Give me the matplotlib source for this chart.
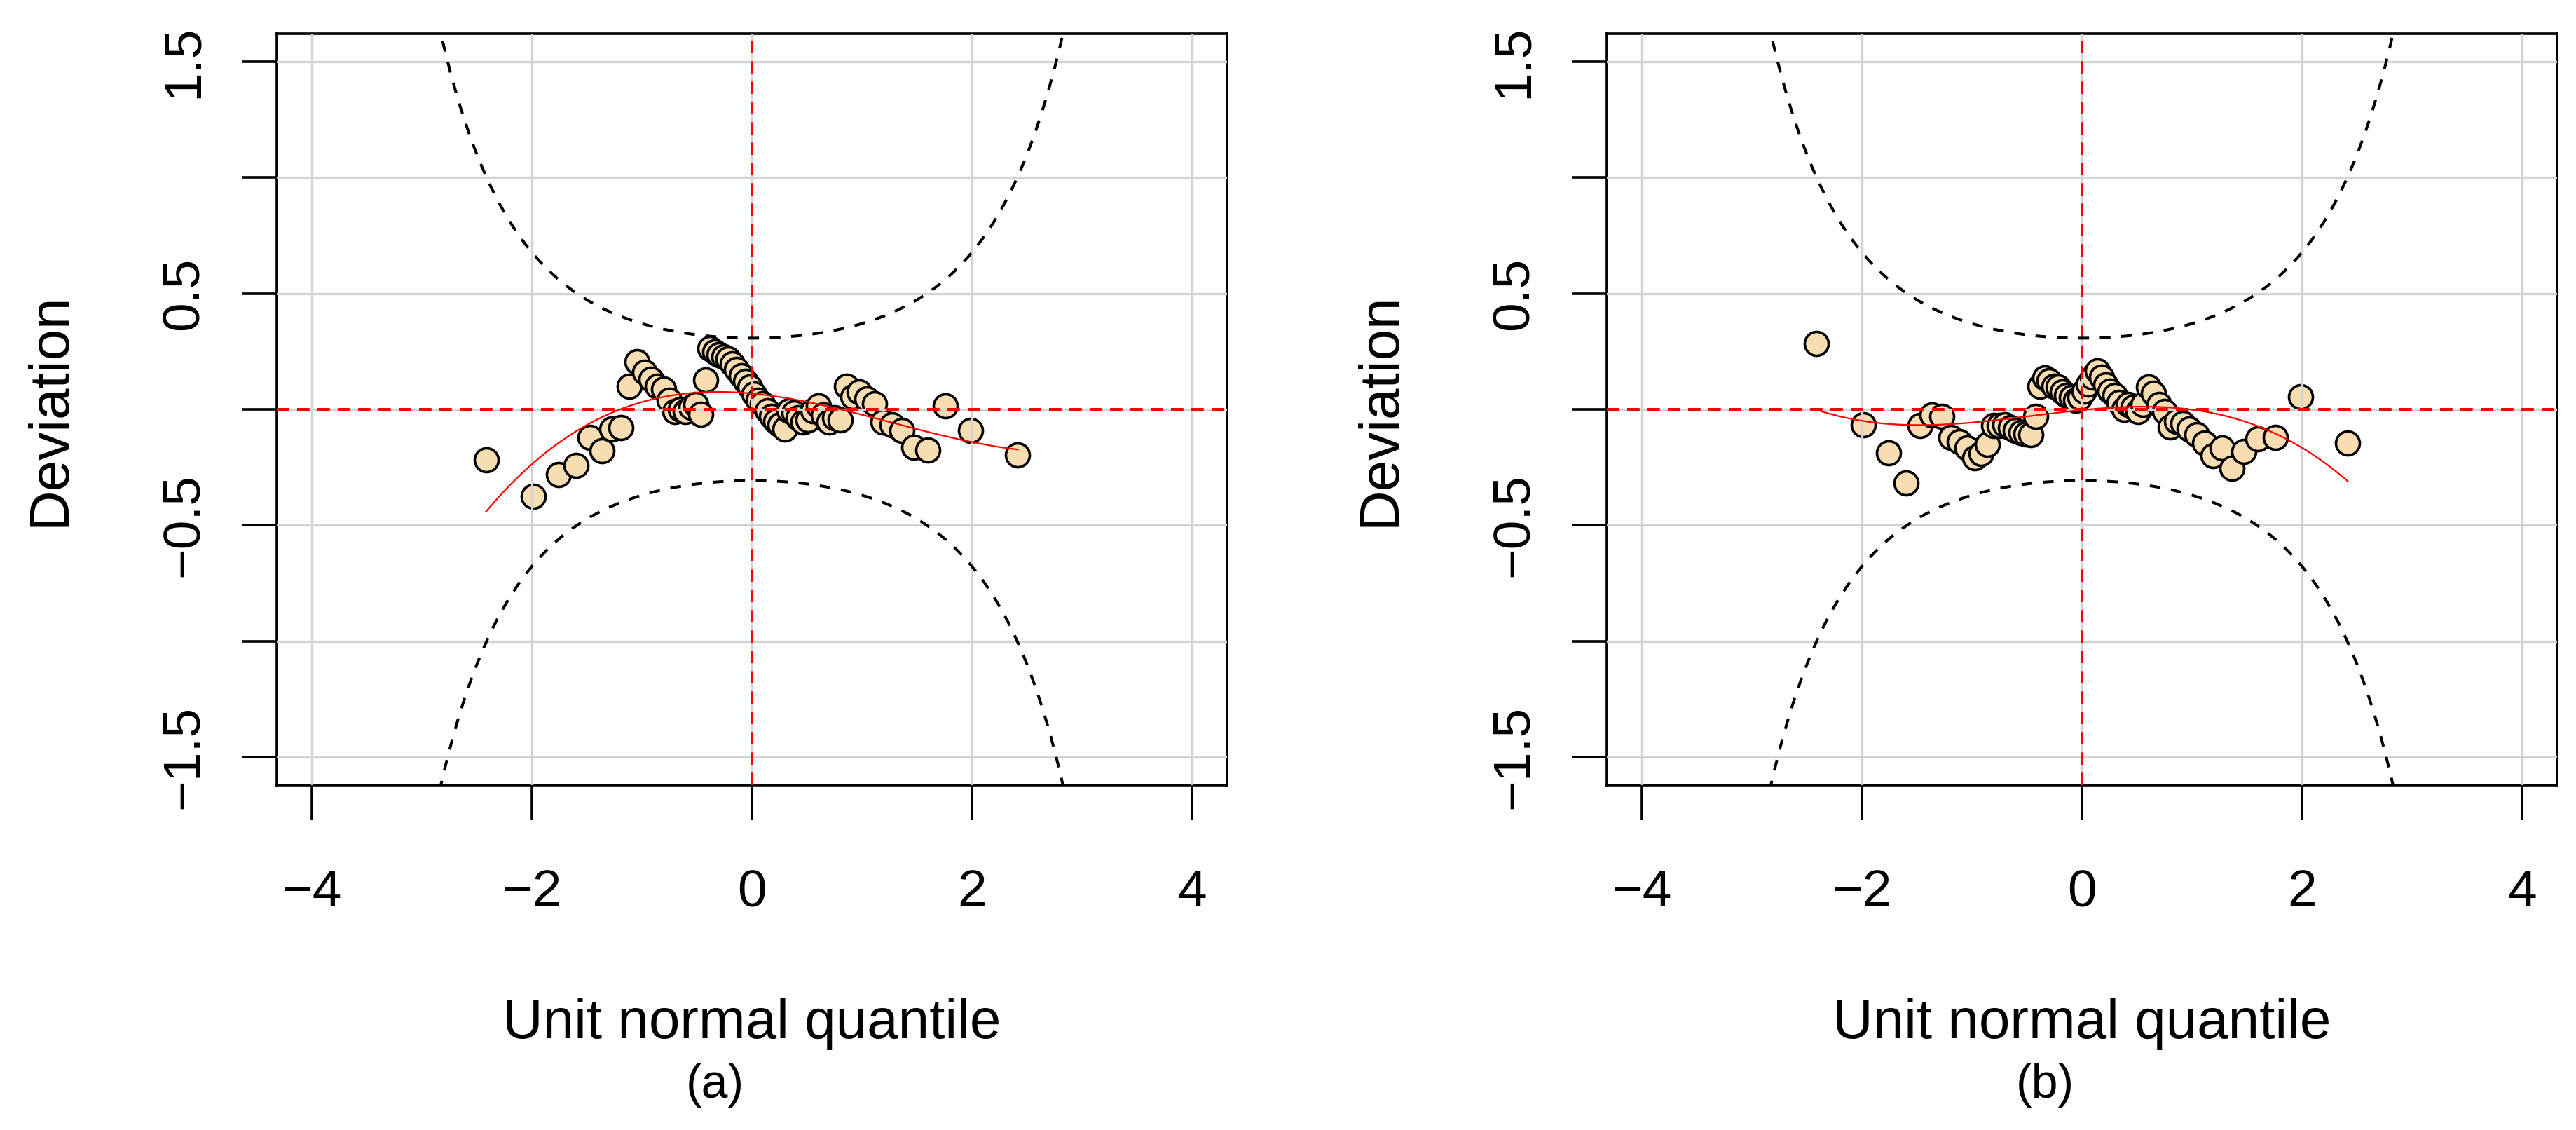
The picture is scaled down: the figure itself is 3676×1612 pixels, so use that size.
import math
from statistics import NormalDist
import numpy as np
import matplotlib
matplotlib.use('Agg')
import matplotlib.pyplot as plt

plt.rcParams['font.family'] = ['Liberation Sans', 'DejaVu Sans']

# worm plot data: deviations (sample quantile - unit normal quantile), sorted by quantile
n_obs = 64
dev_a = [-0.217, -0.374, -0.28, -0.242, -0.121, -0.177, -0.086, -0.08,
         0.10, 0.205, 0.16, 0.13, 0.10, 0.088, 0.04, -0.01,
         0.0, -0.01, 0.01, 0.02, -0.02, 0.126, 0.263, 0.247,
         0.237, 0.227, 0.217, 0.197, 0.172, 0.146, 0.121, 0.096,
         0.066, 0.04, 0.025, -0.005, -0.03, -0.05, -0.066, -0.086,
         -0.005, -0.015, -0.035, -0.055, -0.045, -0.005, 0.015, -0.025,
         -0.055, -0.035, -0.045, 0.10, 0.055, 0.075, 0.045, 0.025,
         -0.055, -0.066, -0.091, -0.162, -0.175, 0.015, -0.091, -0.197]
dev_b = [0.283, -0.066, -0.187, -0.318, -0.07, -0.025, -0.03, -0.121,
         -0.14, -0.165, -0.21, -0.19, -0.15, -0.07, -0.07, -0.066,
         -0.08, -0.09, -0.10, -0.106, -0.11, -0.03, 0.10, 0.136,
         0.125, 0.10, 0.096, 0.075, 0.06, 0.05, 0.04, 0.05,
         0.08, 0.11, 0.14, 0.167, 0.14, 0.106, 0.08, 0.06,
         0.03, 0.0, 0.02, 0.01, -0.01, 0.02, 0.096, 0.07,
         0.02, -0.01, -0.076, -0.05, -0.06, -0.086, -0.11, -0.146,
         -0.2, -0.165, -0.255, -0.182, -0.126, -0.121, 0.055, -0.146]
panels = [dev_a, dev_b]
panel_tags = ['(a)', '(b)']
x_label = 'Unit normal quantile'
y_label = 'Deviation'
x_ticks = [-4, -2, 0, 2, 4]
y_ticks = [-1.5, -1.0, -0.5, 0.0, 0.5, 1.0, 1.5]
y_tick_labels = ['\u22121.5', '', '\u22120.5', '', '0.5', '', '1.5']
level = 0.95

nd = NormalDist()
qx = np.array([nd.inv_cdf((i + 0.5) / n_obs) for i in range(n_obs)])

# pointwise confidence band of the worm plot
zgrid = np.linspace(-4, 4, 400)
pg = np.array([nd.cdf(z) for z in zgrid])
dg = np.array([nd.pdf(z) for z in zgrid])
se = np.sqrt(pg * (1 - pg) / n_obs) / dg
high = -nd.inv_cdf((1 - level) / 2) * se
low = -high

W, H = 3676, 1612
fig = plt.figure(figsize=(W / 100, H / 100), dpi=100)
lefts = [395, 2293]
tag_x = [1020, 2918]

for k, dev in enumerate(panels):
    ax = fig.add_axes([lefts[k] / W, 1 - 1120 / H, 1356 / W, 1072 / H])
    dev = np.array(dev)
    ax.plot(qx, dev, 'o', ms=24.5, mfc='#F8DDB2', mec='black', mew=2.6, zorder=2)
    ax.set_axisbelow(False)
    ax.grid(True, color='#D3D3D3', lw=2.4, zorder=2.5)
    ax.axhline(0, color='red', lw=2.9, ls=(0, (4.4, 2.8)), zorder=3)
    ax.axvline(0, color='red', lw=2.9, ls=(0, (4.4, 2.8)), zorder=3)
    ax.plot(zgrid, high, color='black', lw=2.9, ls=(0, (3.8, 3.8)), zorder=3)
    ax.plot(zgrid, low, color='black', lw=2.9, ls=(0, (3.8, 3.8)), zorder=3)
    coef = np.polyfit(qx, dev, 3)
    xs = np.linspace(qx.min(), qx.max(), 200)
    ax.plot(xs, np.polyval(coef, xs), color='red', lw=1.6, zorder=4)

    ax.set_xlim(-4.32, 4.32)
    ax.set_ylim(-1.62, 1.62)
    ax.set_xticks(x_ticks, [str(t).replace('-', '\u2212') for t in x_ticks])
    ax.set_yticks(y_ticks, y_tick_labels, rotation=90, va='center')
    ax.tick_params(axis='both', direction='out', length=36, width=2.6,
                   labelsize=54, color='black')
    ax.tick_params(axis='x', pad=50)
    ax.tick_params(axis='y', pad=35)
    for s in ax.spines.values():
        s.set_linewidth(2.6)
        s.set_color('black')
    ax.set_xlabel(x_label, fontsize=57.6, va='center')
    ax.xaxis.set_label_coords(0.5, -0.318)
    ax.set_ylabel(y_label, fontsize=57.6, va='center')
    ax.yaxis.set_label_coords(-0.2382, 0.5)
    fig.text(tag_x[k] / W, 1 - 1548 / H, panel_tags[k], ha='center', va='center',
             fontsize=49)

fig.savefig('out.png', dpi=100)
